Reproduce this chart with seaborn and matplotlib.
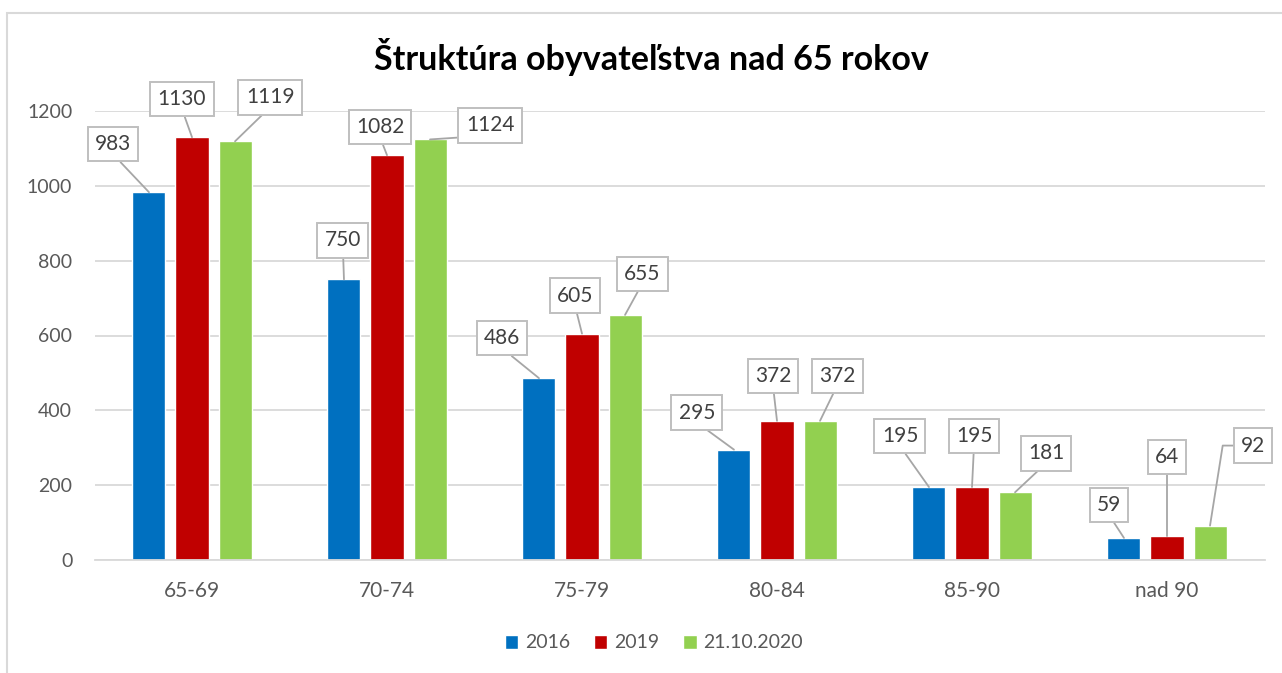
import pandas as pd
import matplotlib.pyplot as plt
import seaborn as sns
from matplotlib.patches import Rectangle

# data
vekove_skupiny = ['65-69', '70-74', '75-79', '80-84', '85-90', 'nad 90']
roky = ['2016', '2019', '21.10.2020']
hodnoty_2016 = [983, 750, 486, 295, 195, 59]
hodnoty_2019 = [1130, 1082, 605, 372, 195, 64]
hodnoty_2020 = [1119, 1124, 655, 372, 181, 92]
farby = ['#0070C0', '#C00000', '#92D050']

df = pd.DataFrame({
    'skupina': vekove_skupiny * 3,
    'rok': [r for r in roky for _ in vekove_skupiny],
    'pocet': hodnoty_2016 + hodnoty_2019 + hodnoty_2020,
})

# posun stitkov (pixely) od vrcholu stlpca, podla poradia rok -> skupina
posuny = [
    [(-36, 48), (-1, 39), (-37, 40), (-37, 37), (-29, 51), (-15, 33)],
    [(-10, 38), (-7, 28), (-7, 38), (-4, 45), (2, 51), (0, 79)],
    [(35, 44), (60, 14), (17, 41), (17, 45), (31, 39), (43, 80)],
]

sns.set_style('white')
plt.rcParams['font.family'] = ['Lato', 'DejaVu Sans']

fig = plt.figure(figsize=(12.82, 6.73), dpi=100)
ax = fig.add_axes([94.5 / 1282, 1 - 560 / 673, 1170 / 1282, 449 / 673])

sns.barplot(data=df, x='skupina', y='pocet', hue='rok', palette=farby,
            width=0.662, gap=0.233, ax=ax, saturation=1)

ax.set_ylim(0, 1200)
ax.set_xlim(-0.5, 5.5)
ax.set_yticks(range(0, 1201, 200))
ax.yaxis.grid(True, color='#d9d9d9', linewidth=1.3)
ax.set_axisbelow(True)
for s in ['top', 'right', 'left']:
    ax.spines[s].set_visible(False)
ax.spines['bottom'].set_color('#d9d9d9')
ax.spines['bottom'].set_linewidth(1.3)
ax.tick_params(axis='both', length=0, labelsize=14, labelcolor='#595959')
ax.tick_params(axis='x', labelsize=15, pad=15)
ax.tick_params(axis='y', pad=16)
ax.set_xlabel('')
ax.set_ylabel('')

# stitky s odkaznymi ciarami
for i, cont in enumerate(ax.containers):
    for j, bar in enumerate(cont):
        x = bar.get_x() + bar.get_width() / 2
        y = bar.get_height()
        dx, dy = posuny[i][j]
        if i == 2 and j == 5:
            arrow = dict(arrowstyle='-', color='#a6a6a6', lw=1.3, relpos=(0, 0.5),
                         shrinkA=0, shrinkB=0, connectionstyle='angle,angleA=0,angleB=81,rad=0')
        else:
            arrow = dict(arrowstyle='-', color='#a6a6a6', lw=1.3, relpos=(0.5, 0),
                         shrinkA=0, shrinkB=0)
        ax.annotate(f'{int(y)}', xy=(x, y), xytext=(dx, dy), textcoords='offset pixels',
                    ha='center', va='center', fontsize=15, color='#404040',
                    bbox=dict(boxstyle='square,pad=0.35', fc='white', ec='#bfbfbf', lw=1.4),
                    arrowprops=arrow, annotation_clip=False)

handles, labels = ax.get_legend_handles_labels()
ax.get_legend().remove()
fig.legend(handles, labels, loc='center', bbox_to_anchor=(654 / 1282, 1 - 643 / 673),
           ncol=3, frameon=False, fontsize=14, labelcolor='#595959',
           handlelength=0.7, handleheight=0.7, handletextpad=0.36, columnspacing=1.2)

fig.text(651 / 1282, 1 - 57 / 673, 'Štruktúra obyvateľstva nad 65 rokov',
         ha='center', va='center', fontsize=24.5, fontweight='bold', color='black')

fig.patches.append(Rectangle((7 / 1282, -0.1), 1.1, 1 - 13 / 673 + 0.1,
                             transform=fig.transFigure, fill=False,
                             ec='#d9d9d9', lw=1.5))

fig.savefig('out.png', dpi=100)
